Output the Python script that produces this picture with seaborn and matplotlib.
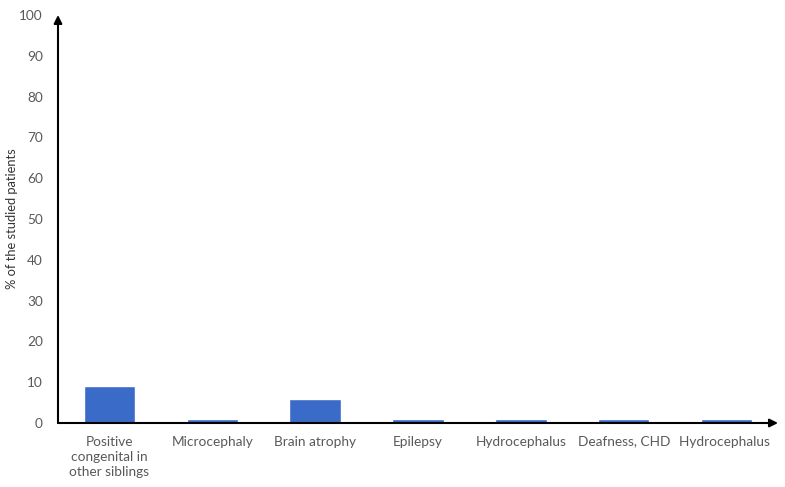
import numpy as np
import pandas as pd
import seaborn as sns
import matplotlib.pyplot as plt

# chart data
categories = ['Positive\ncongenital in\nother siblings', 'Microcephaly', 'Brain atrophy',
              'Epilepsy', 'Hydrocephalus', 'Deafness, CHD', 'Hydrocephalus ']
percent = [9, 1, 6, 1, 1, 1, 1]
y_ticks = [0, 10, 20, 30, 40, 50, 60, 70, 80, 90, 100]

df = pd.DataFrame({'finding': categories, 'pct': percent})

sns.set_style("white")
plt.rcParams['font.family'] = ['Lato', 'DejaVu Sans']

fig = plt.figure(figsize=(7.85, 4.87), dpi=100)
ax = fig.add_axes([58 / 785, 64 / 487, 720 / 785, 408 / 487])

sns.barplot(data=df, x='finding', y='pct', color='#3B6BC8', width=0.5,
            saturation=1, ax=ax)

ax.set_xlim(-0.5, len(categories) - 0.5)
ax.set_ylim(0, 100)
ax.set_yticks(y_ticks)
ax.set_xlabel('')
ax.set_ylabel('')
ax.tick_params(axis='both', length=0, labelsize=9.8, labelcolor='#595959')
ax.tick_params(axis='y', pad=11)
ax.tick_params(axis='x', pad=9)
for lbl in ax.get_xticklabels():
    lbl.set_linespacing(1.35)

# y axis title placed by hand near the left edge
fig.text(12 / 785, (487 - 219) / 487, '% of the studied patients', rotation=90,
         ha='center', va='center', fontsize=9.3, color='#333333')

for s in ax.spines.values():
    s.set_visible(False)

# axis arrows
ax.annotate('', xy=(1.0, 0), xytext=(0, 0), xycoords='axes fraction',
            arrowprops=dict(arrowstyle='-|>', color='black', lw=1.5,
                            mutation_scale=12, shrinkA=0, shrinkB=0))
ax.annotate('', xy=(0, 1.0), xytext=(0, 0), xycoords='axes fraction',
            arrowprops=dict(arrowstyle='-|>', color='black', lw=1.5,
                            mutation_scale=12, shrinkA=0, shrinkB=0))

plt.savefig('out.png', dpi=100)
